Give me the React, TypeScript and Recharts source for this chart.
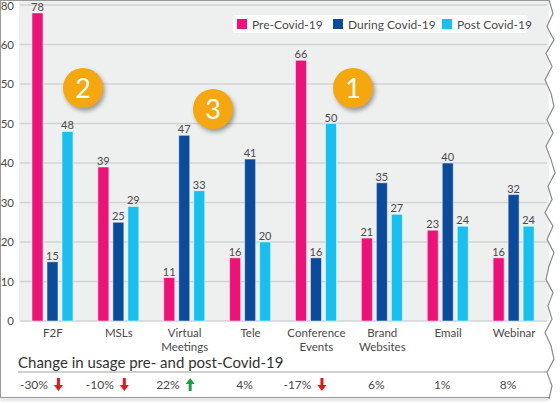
import React from "react";
import { BarChart, Bar, XAxis, YAxis, CartesianGrid, LabelList } from "recharts";

const categories = ["F2F", "MSLs", "Virtual Meetings", "Tele", "Conference Events", "Brand Websites", "Email", "Webinar"];
const preCovid = [78, 39, 11, 16, 66, 21, 23, 16];
const duringCovid = [15, 25, 47, 41, 16, 35, 40, 32];
const postCovid = [48, 29, 33, 20, 50, 27, 24, 24];
const changeInUsage = [-30, -10, 22, 4, -17, 6, 1, 8];
const trend = ["down", "down", "up", "", "down", "", "", ""];
const yTicks = [0, 10, 20, 30, 40, 50, 60, 70, 80];
const yTickLabels = ["0", "10", "20", "30", "40", "50", "50", "60", "80"];

const series = [
  { key: "pre", name: "Pre-Covid-19", color: "#ED1178" },
  { key: "during", name: "During Covid-19", color: "#0B4B9B" },
  { key: "post", name: "Post Covid-19", color: "#17C0EE" },
];

// callouts drawn on top of the picture
const badges = [
  { label: "2", left: 63, top: 68 },
  { label: "3", left: 193, top: 89 },
  { label: "1", left: 333, top: 68 },
];

const data = categories.map((name, i) => ({
  name,
  pre: preCovid[i],
  during: duringCovid[i],
  post: postCovid[i],
}));

const FONT = "Lato, 'Open Sans', sans-serif";

function Arrow({ x, y, dir }: { x: number; y: number; dir: string }) {
  const color = dir === "up" ? "#18A03C" : "#E8161C";
  const d =
    dir === "up"
      ? `M${x + 3},${y + 13} h3 v-7 h3 l-4.5,-6 l-4.5,6 h3 z`
      : `M${x + 3},${y} h3 v7 h3 l-4.5,6 l-4.5,-6 h3 z`;
  return <path d={d} fill={color} />;
}

function CategoryTick(props: any) {
  const { x, y, payload } = props;
  const i = categories.indexOf(payload.value);
  const lines = String(payload.value).split(" ");
  const pct = `${changeInUsage[i]}%`;
  const dir = trend[i];
  return (
    <g>
      {lines.map((ln, k) => (
        <text key={k} x={x} y={y + 8 + k * 14} textAnchor="middle" fontSize={11.5} fill="#4a4a4a" fontFamily={FONT}>
          {ln}
        </text>
      ))}
      {dir ? (
        <>
          <text x={x - 5} y={y + 60} textAnchor="end" fontSize={12} fill="#4a4a4a" fontFamily={FONT}>
            {pct}
          </text>
          <Arrow x={x + 1} y={y + 49} dir={dir} />
        </>
      ) : (
        <text x={x - 6} y={y + 60} textAnchor="middle" fontSize={12} fill="#4a4a4a" fontFamily={FONT}>
          {pct}
        </text>
      )}
    </g>
  );
}

// torn right edge of the screenshot
const tornOffsets = [0, 4, -2, 5, -3, 3, -4, 2, 5, -2, 4, -3, 2, 6, -1, 3, -4, 4, -2, 5, 0, -3, 4, -1, 3, -4, 2, 5, -2, 3, 0];

export default function App() {
  const torn = tornOffsets.map((o, k) => `${k === 0 ? "M" : "L"}${549 + o},${k * 13.3}`).join(" ");
  return (
    <div style={{ position: "absolute", left: 0, top: 0, width: 560, height: 403, background: "#fff", fontFamily: FONT, overflow: "hidden" }}>
      {/* plot background */}
      <div style={{ position: "absolute", left: 19, top: 0, width: 530, height: 321, background: "#EEEFEF" }} />
      {/* frame */}
      <div style={{ position: "absolute", left: 0, top: 0, width: 549, height: 1, background: "#9a9a9a" }} />
      <div style={{ position: "absolute", left: 0, top: 0, width: 1, height: 398, background: "#9a9a9a" }} />
      <div style={{ position: "absolute", left: 0, top: 397, width: 549, height: 1, background: "#9a9a9a", boxShadow: "0 2px 3px rgba(0,0,0,0.35)" }} />

      <div style={{ position: "absolute", left: 0, top: 0 }}>
        <BarChart width={552} height={400} data={data} margin={{ top: 5, right: 5, left: 0, bottom: 0 }} barSize={11} barGap={4}>
          <CartesianGrid vertical={false} stroke="#D2D4D4" strokeWidth={1.5} />
          <XAxis dataKey="name" height={79} axisLine={false} tickLine={false} interval={0} tick={<CategoryTick />} />
          <YAxis
            width={20}
            domain={[0, 80]}
            ticks={yTicks}
            tickFormatter={(v: number) => yTickLabels[yTicks.indexOf(v)]}
            axisLine={false}
            tickLine={false}
            tickSize={0}
            tickMargin={6}
            tick={{ fontSize: 11.5, fill: "#4a4a4a", fontFamily: FONT }}
          />
          {series.map((s) => (
            <Bar key={s.key} dataKey={s.key} name={s.name} fill={s.color} stroke="rgba(255,255,255,0.5)" strokeWidth={1} isAnimationActive={false}>
              <LabelList dataKey={s.key} position="top" offset={2} fontSize={11} fill="#4a4a4a" fontFamily={FONT} />
            </Bar>
          ))}
        </BarChart>
      </div>

      {/* legend */}
      <div style={{ position: "absolute", left: 233, top: 15, width: 294, height: 18, background: "#fff" }}>
        {series.map((s, k) => (
          <div
            key={s.key}
            style={{
              position: "absolute",
              left: [4, 100, 209][k],
              top: 0,
              height: 18,
              display: "flex",
              alignItems: "center",
              whiteSpace: "nowrap",
              fontSize: 12,
              color: "#4a4a4a",
            }}
          >
            <span style={{ display: "inline-block", width: 10, height: 10, background: s.color, marginRight: 5 }} />
            {s.name}
          </div>
        ))}
      </div>

      {/* badges */}
      {badges.map((b) => (
        <div
          key={b.label}
          style={{
            position: "absolute",
            left: b.left,
            top: b.top,
            width: 40,
            height: 40,
            borderRadius: "50%",
            background: "#F5A70F",
            boxShadow: "2px 3px 4px rgba(0,0,0,0.35)",
            color: "#fff",
            fontSize: 27,
            lineHeight: "40px",
            textAlign: "center",
          }}
        >
          {b.label}
        </div>
      ))}

      {/* change table */}
      <div style={{ position: "absolute", left: 18, top: 353, fontSize: 15, lineHeight: "18px", color: "#333", whiteSpace: "nowrap" }}>
        Change in usage pre- and post-Covid-19
      </div>
      <div style={{ position: "absolute", left: 18, top: 371, width: 530, height: 1.5, background: "#cfcfcf" }} />

      <svg width={560} height={403} style={{ position: "absolute", left: 0, top: 0, pointerEvents: "none" }}>
        <path d={`${torn} L560,400 L560,0 Z`} fill="#fff" />
        <path d={torn} fill="none" stroke="#8a8a8a" strokeWidth={1.2} />
      </svg>
    </div>
  );
}
